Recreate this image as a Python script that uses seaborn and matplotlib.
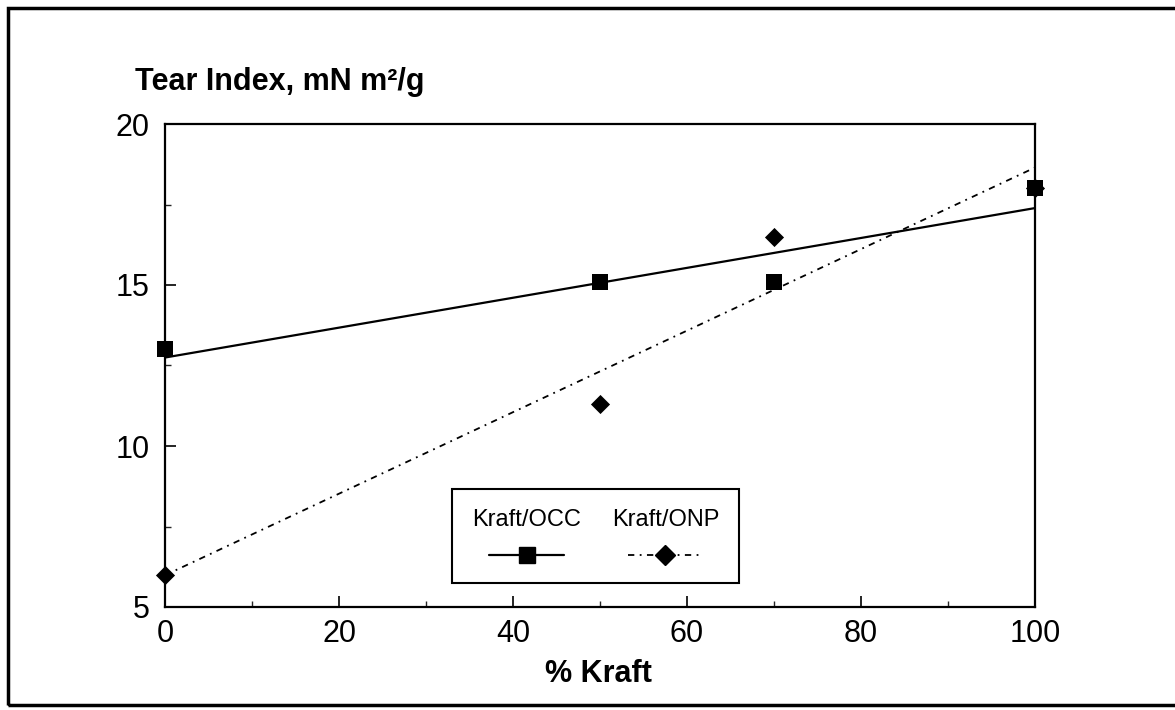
import numpy as np
import pandas as pd
import matplotlib
matplotlib.use("Agg")
import matplotlib.pyplot as plt
from matplotlib.lines import Line2D
from matplotlib.patches import Rectangle
from matplotlib.offsetbox import VPacker
from matplotlib.ticker import MultipleLocator
import seaborn as sns

# ---- data ----
pct_kraft = [0, 50, 70, 100]
occ_tear = [13.0, 15.1, 15.1, 18.0]
onp_tear = [6.0, 11.3, 16.5, 18.0]
series_names = ["Kraft/OCC", "Kraft/ONP"]
x_ticks = [0, 20, 40, 60, 80, 100]
y_ticks = [5, 10, 15, 20]
y_title = "Tear Index, mN m\u00b2/g"
x_title = "% Kraft"

sns.set_theme(style="ticks")
plt.rcParams["font.family"] = ["Liberation Sans", "DejaVu Sans"]
plt.rcParams["text.color"] = "black"

W, H = 1175, 710
fig = plt.figure(figsize=(W / 100, H / 100), dpi=100)
fig.patch.set_facecolor("white")
ax = fig.add_axes([165 / W, 1 - 607 / H, (1035 - 165) / W, (607 - 124) / H])

df_occ = pd.DataFrame({"x": pct_kraft, "y": occ_tear})
df_onp = pd.DataFrame({"x": pct_kraft, "y": onp_tear})

onp_dash = (0, (3.5, 3.0, 1.0, 3.0))

# regression lines
sns.regplot(data=df_onp, x="x", y="y", ci=None, scatter=False, ax=ax,
            line_kws=dict(color="black", lw=1.3, linestyle=onp_dash))
sns.regplot(data=df_occ, x="x", y="y", ci=None, scatter=False, ax=ax,
            line_kws=dict(color="black", lw=1.6, linestyle="-"))
# markers
sns.scatterplot(data=df_onp, x="x", y="y", marker="D", s=95, color="black",
                edgecolor="black", linewidth=0, ax=ax, zorder=3, clip_on=False)
sns.scatterplot(data=df_occ, x="x", y="y", marker="s", s=125, color="black",
                edgecolor="black", linewidth=0, ax=ax, zorder=4, clip_on=False)

ax.set_xlim(0, 100)
ax.set_ylim(5, 20)
ax.set_xticks(x_ticks)
ax.set_yticks(y_ticks)
ax.xaxis.set_minor_locator(MultipleLocator(10))
ax.yaxis.set_minor_locator(MultipleLocator(2.5))
ax.set_xlabel("")
ax.set_ylabel("")
for s in ax.spines.values():
    s.set_visible(True)
    s.set_color("black")
    s.set_linewidth(1.6)
ax.tick_params(axis="both", which="major", direction="in", length=8, width=1.2,
               labelsize=22, colors="black", top=False, right=False)
ax.tick_params(axis="x", which="major", pad=9)
ax.tick_params(axis="y", which="major", pad=11)
ax.tick_params(axis="both", which="minor", direction="in", length=4, width=1.0,
               top=False, right=False)
ax.set_facecolor("white")
ax.grid(False)

# titles
fig.text(135 / W, 1 - 82 / H, y_title, ha="left", va="center",
         fontsize=22, fontweight="bold", color="black")
fig.text(598 / W, 1 - 674 / H, x_title, ha="center", va="center",
         fontsize=22, fontweight="bold", color="black")

# legend: labels above handles
fs = 17
h_occ = Line2D([], [], color="black", lw=1.6, marker="s", markersize=11)
h_onp = Line2D([], [], color="black", lw=1.3, linestyle=onp_dash, marker="D",
               markersize=10)
leg = ax.legend(handles=[h_occ, h_onp], labels=series_names, ncol=2,
                loc="lower left", bbox_to_anchor=(0.33, 0.05),
                borderaxespad=0, frameon=True, fancybox=False,
                edgecolor="black", handlelength=3.2, columnspacing=1.3,
                borderpad=0.85, handletextpad=0.4, labelcolor="black",
                prop={"size": fs})
leg.get_frame().set_linewidth(1.5)
leg.get_frame().set_alpha(1)
try:
    for column in leg._legend_handle_box.get_children():
        new_items = []
        for item in column.get_children():
            hb, tb = item.get_children()
            new_items.append(VPacker(pad=0, sep=11, align="center", children=[tb, hb]))
        column._children = new_items
        column.align = "center"
except Exception:
    pass

# outer frame
fig.patches.append(Rectangle((8 / W, 1 - 705 / H), 1.2, (705 - 8) / H,
                             transform=fig.transFigure, fill=False,
                             edgecolor="black", lw=2.5, clip_on=False))

fig.savefig("out.png", dpi=100, facecolor="white")
